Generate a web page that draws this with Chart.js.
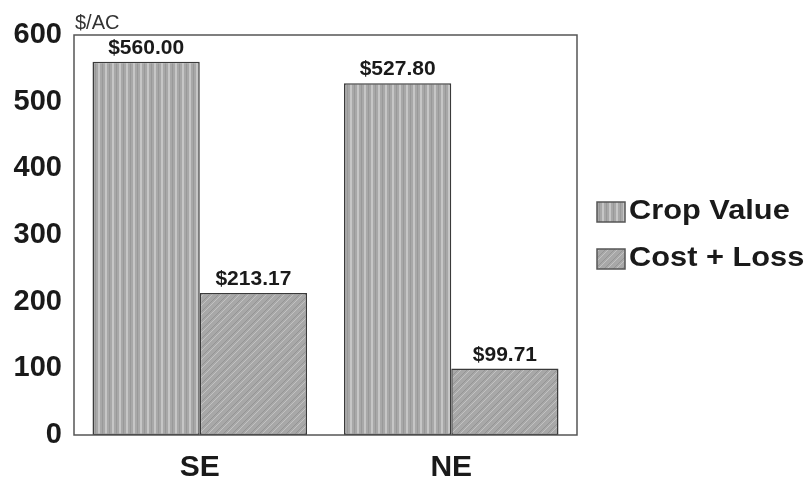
<!DOCTYPE html>
<html>
<head>
<meta charset="utf-8">
<script src="https://cdn.jsdelivr.net/npm/chart.js@4/dist/chart.umd.min.js"></script>
<style>
  html, body { margin: 0; padding: 0; background: #fff; }
  #wrap { width: 807px; height: 480px; }
</style>
</head>
<body>
<div id="wrap"><canvas id="chart" width="807" height="480"></canvas></div>
<script>
  // regions and per-acre figures
  const regions = ['SE', 'NE'];
  const cropValue = [560.00, 527.80];
  const costLoss = [213.17, 99.71];
  const seriesNames = ['Crop Value', 'Cost + Loss'];
  const yTicks = [0, 100, 200, 300, 400, 500, 600];
  const unitLabel = '$/AC';

  const FONT = "'Liberation Sans', Arial, sans-serif";

  // gray fill with light vertical stripes
  function stripePattern(ctx) {
    const c = document.createElement('canvas');
    c.width = 7; c.height = 7;
    const g = c.getContext('2d');
    g.fillStyle = '#a8a8a8';
    g.fillRect(0, 0, 7, 7);
    g.fillStyle = '#c6c6c6';
    g.fillRect(0, 0, 2, 7);
    g.fillStyle = '#999';
    g.fillRect(4, 0, 1, 7);
    return ctx.createPattern(c, 'repeat');
  }

  // gray fill with diagonal hatching
  function hatchPattern(ctx) {
    const s = 9;
    const c = document.createElement('canvas');
    c.width = s; c.height = s;
    const g = c.getContext('2d');
    g.fillStyle = '#a8a8a8';
    g.fillRect(0, 0, s, s);
    g.lineWidth = 1;
    g.strokeStyle = '#959595';
    for (let k = -1; k <= 1; k++) {
      g.beginPath();
      g.moveTo(k * s, s);
      g.lineTo(k * s + s, 0);
      g.stroke();
    }
    g.strokeStyle = '#c2c2c2';
    for (let k = -1; k <= 1; k++) {
      g.beginPath();
      g.moveTo(k * s + 3, s);
      g.lineTo(k * s + 3 + s, 0);
      g.stroke();
    }
    return ctx.createPattern(c, 'repeat');
  }

  const canvas = document.getElementById('chart');
  const ctx = canvas.getContext('2d');
  const fills = [stripePattern(ctx), hatchPattern(ctx)];

  // frame around the plot, unit label, value labels and legend
  const decorations = {
    id: 'decorations',
    beforeDraw(chart) {
      const c = chart.ctx;
      c.save();
      c.fillStyle = '#fff';
      c.fillRect(0, 0, chart.width, chart.height);
      c.restore();
    },
    afterDatasetsDraw(chart) {
      const c = chart.ctx;
      const a = chart.chartArea;
      c.save();
      c.strokeStyle = '#555';
      c.lineWidth = 1.5;
      c.strokeRect(a.left, a.top, a.right - a.left, a.bottom - a.top);

      c.fillStyle = '#333';
      c.font = '20px ' + FONT;
      c.textAlign = 'left';
      c.textBaseline = 'alphabetic';
      c.fillText(unitLabel, a.left + 1, a.top - 6);

      c.fillStyle = '#1a1a1a';
      c.font = 'bold 21px ' + FONT;
      c.textAlign = 'center';
      chart.data.datasets.forEach((ds, i) => {
        chart.getDatasetMeta(i).data.forEach((bar, j) => {
          c.fillText('$' + ds.data[j].toFixed(2), bar.x, bar.y - 8);
        });
      });

      // legend to the right of the plot, text slightly stretched
      const lx = 597, ly = [202, 249];
      chart.data.datasets.forEach((ds, i) => {
        c.fillStyle = ds.backgroundColor;
        c.fillRect(lx, ly[i], 28, 20);
        c.strokeStyle = '#555';
        c.lineWidth = 1.5;
        c.strokeRect(lx, ly[i], 28, 20);
        c.save();
        c.translate(lx + 32, ly[i] + 10);
        c.scale(1.14, 1);
        c.fillStyle = '#1a1a1a';
        c.font = 'bold 27px ' + FONT;
        c.textAlign = 'left';
        c.textBaseline = 'middle';
        c.fillText(ds.label, 0, 0);
        c.restore();
      });
      c.restore();
    }
  };

  new Chart(canvas, {
    type: 'bar',
    data: {
      labels: regions,
      datasets: [
        { label: seriesNames[0], data: cropValue, backgroundColor: fills[0] },
        { label: seriesNames[1], data: costLoss, backgroundColor: fills[1] },
      ].map((d) => Object.assign(d, {
        borderColor: '#3a3a3a',
        borderWidth: 1.5,
        borderSkipped: false,
        categoryPercentage: 0.853,
        barPercentage: 1.0,
      })),
    },
    options: {
      responsive: false,
      animation: false,
      layout: { padding: { top: 35, right: 230, left: 0, bottom: 0 } },
      plugins: {
        legend: { display: false },
        tooltip: { enabled: false },
      },
      scales: {
        x: {
          grid: { display: false, drawTicks: false },
          border: { display: false },
          ticks: {
            color: '#1a1a1a',
            padding: 15,
            font: { family: FONT, size: 30, weight: 'bold' },
          },
          afterFit(scale) { scale.height = 45; },
        },
        y: {
          min: yTicks[0],
          max: yTicks[yTicks.length - 1],
          afterBuildTicks(scale) { scale.ticks = yTicks.map((v) => ({ value: v })); },
          grid: { display: false, drawTicks: false },
          border: { display: false },
          ticks: {
            color: '#1a1a1a',
            padding: 12,
            font: { family: FONT, size: 29, weight: 'bold' },
          },
          afterFit(scale) { scale.width = 74; },
        },
      },
    },
    plugins: [decorations],
  });
</script>
</body>
</html>
